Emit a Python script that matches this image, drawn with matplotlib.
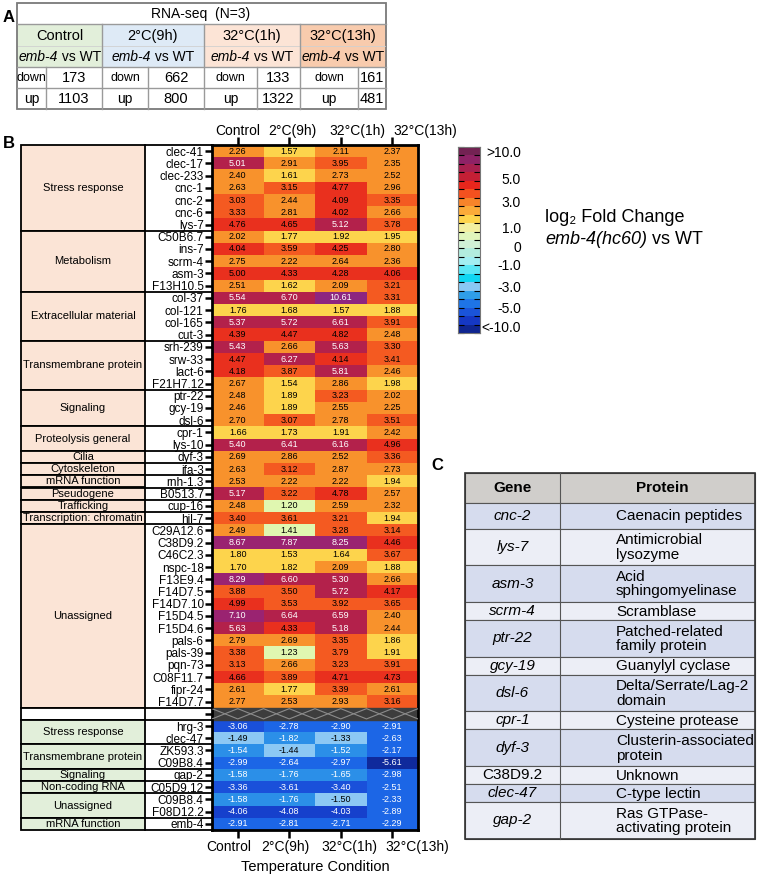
import numpy as np
import matplotlib
matplotlib.use('Agg')
import matplotlib.pyplot as plt
from matplotlib.colors import ListedColormap, BoundaryNorm
from matplotlib.patches import Rectangle

plt.rcParams['font.family'] = ['Liberation Sans', 'DejaVu Sans']

W, H = 765, 877

# --- panel A data
conditions = ['Control', '2°C(9h)', '32°C(1h)', '32°C(13h)']
down_counts = [173, 662, 133, 161]
up_counts = [1103, 800, 1322, 481]
header_colors = ['#e2efda', '#deeaf6', '#fce4d6', '#f8cbad']

# --- panel B data (log2 FC: Control, 2C 9h, 32C 1h, 32C 13h)
up_genes = ['clec-41', 'clec-17', 'clec-233', 'cnc-1', 'cnc-2', 'cnc-6', 'lys-7',
            'C50B6.7', 'ins-7', 'scrm-4', 'asm-3', 'F13H10.5',
            'col-37', 'col-121', 'col-165', 'cut-3',
            'srh-239', 'srw-33', 'lact-6', 'F21H7.12',
            'ptr-22', 'gcy-19', 'dsl-6', 'cpr-1', 'lys-10',
            'dyf-3', 'ifa-3', 'rnh-1.3', 'B0513.7', 'cup-16', 'hil-7',
            'C29A12.6', 'C38D9.2', 'C46C2.3', 'nspc-18', 'F13E9.4', 'F14D7.5',
            'F14D7.10', 'F15D4.5', 'F15D4.6', 'pals-6', 'pals-39', 'pqn-73',
            'C08F11.7', 'fipr-24', 'F14D7.7']
up_values = [
    [2.26, 1.57, 2.11, 2.37], [5.01, 2.91, 3.95, 2.35], [2.40, 1.61, 2.73, 2.52],
    [2.63, 3.15, 4.77, 2.96], [3.03, 2.44, 4.09, 3.35], [3.33, 2.81, 4.02, 2.66],
    [4.76, 4.65, 5.12, 3.78],
    [2.02, 1.77, 1.92, 1.95], [4.04, 3.59, 4.25, 2.80], [2.75, 2.22, 2.64, 2.36],
    [5.00, 4.33, 4.28, 4.06], [2.51, 1.62, 2.09, 3.21],
    [5.54, 6.70, 10.61, 3.31], [1.76, 1.68, 1.57, 1.88], [5.37, 5.72, 6.61, 3.91],
    [4.39, 4.47, 4.82, 2.48],
    [5.43, 2.66, 5.63, 3.30], [4.47, 6.27, 4.14, 3.41], [4.18, 3.87, 5.81, 2.46],
    [2.67, 1.54, 2.86, 1.98],
    [2.48, 1.89, 3.23, 2.02], [2.46, 1.89, 2.55, 2.25], [2.70, 3.07, 2.78, 3.51],
    [1.66, 1.73, 1.91, 2.42], [5.40, 6.41, 6.16, 4.96],
    [2.69, 2.86, 2.52, 3.36], [2.63, 3.12, 2.87, 2.73], [2.53, 2.22, 2.22, 1.94],
    [5.17, 3.22, 4.78, 2.57], [2.48, 1.20, 2.59, 2.32], [3.40, 3.61, 3.21, 1.94],
    [2.49, 1.41, 3.28, 3.14], [8.67, 7.87, 8.25, 4.46], [1.80, 1.53, 1.64, 3.67],
    [1.70, 1.82, 2.09, 1.88], [8.29, 6.60, 5.30, 2.66], [3.88, 3.50, 5.72, 4.17],
    [4.99, 3.53, 3.92, 3.65], [7.10, 6.64, 6.59, 2.40], [5.63, 4.33, 5.18, 2.44],
    [2.79, 2.69, 3.35, 1.86], [3.38, 1.23, 3.79, 1.91], [3.13, 2.66, 3.23, 3.91],
    [4.66, 3.89, 4.71, 4.73], [2.61, 1.77, 3.39, 2.61], [2.77, 2.53, 2.93, 3.16]]
up_categories = [('Stress response', 7), ('Metabolism', 5), ('Extracellular material', 4),
                 ('Transmembrane protein', 4), ('Signaling', 3), ('Proteolysis general', 2),
                 ('Cilia', 1), ('Cytoskeleton', 1), ('mRNA function', 1), ('Pseudogene', 1),
                 ('Trafficking', 1), ('Transcription: chromatin', 1), ('Unassigned', 15)]

down_genes = ['hrg-3', 'clec-47', 'ZK593.3', 'C09B8.4', 'gap-2', 'C05D9.12',
              'C09B8.4', 'F08D12.2', 'emb-4']
down_values = [
    [-3.06, -2.78, -2.90, -2.91], [-1.49, -1.82, -1.33, -2.63], [-1.54, -1.44, -1.52, -2.17],
    [-2.99, -2.64, -2.97, -5.61], [-1.58, -1.76, -1.65, -2.98], [-3.36, -3.61, -3.40, -2.51],
    [-1.58, -1.76, -1.50, -2.33], [-4.06, -4.08, -4.03, -2.89], [-2.91, -2.81, -2.71, -2.29]]
down_categories = [('Stress response', 2), ('Transmembrane protein', 2), ('Signaling', 1),
                   ('Non-coding RNA', 1), ('Unassigned', 2), ('mRNA function', 1)]

# colour scale
bounds = [-12, -5, -4, -3, -2, -1.505, -1.0, 0, 1.0, 1.5, 2.0, 3.0, 4.0, 5.005, 7.0, 10.0, 12]
cell_colors = ['#0f2a9c', '#1640cc', '#1a50da', '#1c66e6', '#2b8fe8', '#8cc8f4',
               '#5ae6f5', '#d0f0d6', '#e0f7b0', '#fdd44c', '#f8922c', '#f45a21',
               '#e9301e', '#b3214b', '#9a2371', '#8d2580']
cbar_colors = ['#732253', '#8e2266', '#a8204f', '#c41f35', '#e8261c', '#f4511f',
               '#f7842a', '#fbab39', '#fdd44c', '#f2efa0', '#e0f5bb', '#d0f0d6',
               '#b2ecde', '#a2eef2', '#5ae6f5', '#10d6f2', '#8ac8f4', '#2f9ee8',
               '#1e74e6', '#1a54d9', '#1538c4', '#0f2590']
cbar_labels = ['>10.0', '5.0', '3.0', '1.0', '0', '-1.0', '-3.0', '-5.0', '<-10.0']
cbar_label_pos = [0.03, 0.18, 0.30, 0.44, 0.545, 0.64, 0.76, 0.87, 0.975]

# --- panel C data
table_genes = ['cnc-2', 'lys-7', 'asm-3', 'scrm-4', 'ptr-22', 'gcy-19', 'dsl-6',
               'cpr-1', 'dyf-3', 'C38D9.2', 'clec-47', 'gap-2']
table_proteins = ['Caenacin peptides', 'Antimicrobial\nlysozyme', 'Acid\nsphingomyelinase',
                  'Scramblase', 'Patched-related\nfamily protein', 'Guanylyl cyclase',
                  'Delta/Serrate/Lag-2\ndomain', 'Cysteine protease',
                  'Clusterin-associated\nprotein', 'Unknown', 'C-type lectin',
                  'Ras GTPase-\nactivating protein']

fig = plt.figure(figsize=(W / 100, H / 100), dpi=100)


def px_axes(x0, y0, x1, y1):
    return fig.add_axes([x0 / W, 1 - y1 / H, (x1 - x0) / W, (y1 - y0) / H])


ov = fig.add_axes([0, 0, 1, 1])
ov.set_xlim(0, W)
ov.set_ylim(H, 0)
ov.axis('off')
renderer = fig.canvas.get_renderer()


def rich_text(x, y, parts, size, ha='left'):
    # several text runs on one line (italic gene names)
    texts, widths = [], []
    for s, style in parts:
        t = ov.text(0, y, s, fontsize=size, style=style, va='center', ha='left')
        texts.append(t)
        widths.append(t.get_window_extent(renderer=renderer).width)
    start = x - sum(widths) / 2 if ha == 'center' else x
    for t, w in zip(texts, widths):
        t.set_x(start)
        start += w


# ================= panel A
ov.text(9, 17, 'A', fontsize=12, fontweight='bold', ha='center', va='center')
gx = [17, 102, 204, 300, 386]
sub = [46, 148, 257, 358]
grid_c = '#9a9a9a'
for i in range(4):
    ov.add_patch(Rectangle((gx[i], 24), gx[i + 1] - gx[i], 43, fc=header_colors[i], ec='none'))
    ov.plot([gx[i] + 1, gx[i + 1] - 1], [46, 46], color='#d0d0d0', lw=0.6)
    cx = (gx[i] + gx[i + 1]) / 2
    ov.text(cx, 36, conditions[i], fontsize=10.5, ha='center', va='center')
    rich_text(cx, 57, [('emb-4', 'italic'), (' vs WT', 'normal')], 10, ha='center')
    lx = (gx[i] + sub[i]) / 2
    vx = (sub[i] + gx[i + 1]) / 2
    ov.text(lx, 78, 'down', fontsize=9, ha='center', va='center')
    ov.text(lx, 99, 'up', fontsize=10, ha='center', va='center')
    ov.text(vx, 78, str(down_counts[i]), fontsize=10.5, ha='center', va='center')
    ov.text(vx, 99, str(up_counts[i]), fontsize=10.5, ha='center', va='center')
    ov.plot([sub[i], sub[i]], [67, 109], color=grid_c, lw=1)
    if i > 0:
        ov.plot([gx[i], gx[i]], [24, 109], color=grid_c, lw=1)
for yy in [24, 67, 88]:
    ov.plot([17, 386], [yy, yy], color=grid_c, lw=1)
ov.add_patch(Rectangle((17, 3), 369, 106, fc='none', ec='#7a7a7a', lw=1.3))
ov.text(201, 14, 'RNA-seq  (N=3)', fontsize=10, ha='center', va='center')

# ================= panel B heatmap
ov.text(9, 143, 'B', fontsize=12, fontweight='bold', ha='center', va='center')
gap_row = len(up_genes)
M = np.vstack([np.array(up_values), np.full((1, 4), np.nan), np.array(down_values)])
row_labels = up_genes + [''] + down_genes
n_rows = M.shape[0]

cmap = ListedColormap(cell_colors)
norm = BoundaryNorm(bounds, cmap.N)
hm = px_axes(212, 145, 418, 830)
hm.imshow(np.ma.masked_invalid(M), cmap=cmap, norm=norm, aspect='auto',
          interpolation='nearest')
hm.axhspan(gap_row - 0.5, gap_row + 0.5, color='#3d3d3d', zorder=2)
zx = np.arange(-0.5, 3.51, 0.5)
zy = np.where(np.arange(len(zx)) % 2 == 0, gap_row - 0.42, gap_row + 0.42)
hm.plot(zx, zy, color='#8c8c8c', lw=0.8, zorder=3)
hm.plot(zx, 2 * gap_row - zy, color='#8c8c8c', lw=0.8, zorder=3)
for i in range(n_rows):
    for j in range(4):
        v = M[i, j]
        if np.isnan(v):
            continue
        tc = 'white' if (v >= 5.005 or v <= -1.505) else 'black'
        hm.text(j, i, f'{v:.2f}', ha='center', va='center', fontsize=6.5, color=tc)
hm.set_xticks(range(4))
hm.set_xticklabels([])
hm.set_yticks(range(n_rows))
hm.set_yticklabels(row_labels, fontsize=8.5)
hm.tick_params(axis='x', top=True, bottom=True, length=6, width=1.8)
hm.tick_params(axis='y', length=5, width=1.8, pad=1)
for s in hm.spines.values():
    s.set_linewidth(2)
# condition labels (spread a little wider than the columns, as in the figure)
top_label_x = [238, 292, 357, 425]
bottom_label_x = [229, 285, 349, 417]
for c, xt, xb in zip(conditions, top_label_x, bottom_label_x):
    ov.text(xt, 131, c, fontsize=10, ha='center', va='center')
    ov.text(xb, 847, c, fontsize=10, ha='center', va='center')
ov.text(315, 867, 'Temperature Condition', fontsize=10.5, ha='center', va='center')

# category boxes
cat = px_axes(21, 145, 212, 830)
cat.set_xlim(0, 191)
cat.set_ylim(n_rows - 0.5, -0.5)
cat.axis('off')
box_w = 124
edges = []
start = -0.5
for name, n in up_categories:
    cat.add_patch(Rectangle((0, start), box_w, n, fc='#fbe4d6', ec='black', lw=1.3,
                            clip_on=False))
    cat.text(box_w / 2, start + n / 2, name, fontsize=8, ha='center', va='center')
    edges.append(start)
    start += n
edges.append(start)
cat.add_patch(Rectangle((0, start), box_w, 1, fc='white', ec='black', lw=1.3, clip_on=False))
start += 1
for name, n in down_categories:
    cat.add_patch(Rectangle((0, start), box_w, n, fc='#e2efda', ec='black', lw=1.3,
                            clip_on=False))
    cat.text(box_w / 2, start + n / 2, name, fontsize=8, ha='center', va='center')
    edges.append(start)
    start += n
edges.append(start)
for e in edges:
    cat.plot([box_w, 191], [e, e], color='black', lw=1.3, clip_on=False)

# colour bar
n_band = len(cbar_colors)
cb = px_axes(458, 147, 480, 333)
cb.imshow(np.arange(n_band)[:, None], cmap=ListedColormap(cbar_colors), aspect='auto',
          interpolation='nearest')
cb.set_xticks([])
cb.set_yticks(np.arange(n_band + 1) - 0.5)
cb.tick_params(axis='y', direction='in', left=True, right=True, labelleft=False,
               length=4, width=0.8)
for s in cb.spines.values():
    s.set_color('#777777')
    s.set_linewidth(0.8)
for lab, p in zip(cbar_labels, cbar_label_pos):
    cb.text(2.86, 1 - p, lab, transform=cb.transAxes, ha='right', va='center', fontsize=10)
ov.text(545, 218, 'log\u2082 Fold Change', fontsize=13, ha='left', va='center')
rich_text(545, 239, [('emb-4(hc60)', 'italic'), (' vs WT', 'normal')], 13)

# ================= panel C
ov.text(437, 466, 'C', fontsize=12, fontweight='bold', ha='center', va='center')
tx0, tdiv, tx1 = 465, 560, 755
ty = 473
ov.add_patch(Rectangle((tx0, ty), tx1 - tx0, 29.5, fc='#d0cecb', ec='#555555', lw=0.8))
ov.plot([tdiv, tdiv], [ty, ty + 29.5], color='#555555', lw=0.8)
ov.text((tx0 + tdiv) / 2, ty + 15, 'Gene', fontsize=11, fontweight='bold', ha='center',
        va='center')
ov.text((tdiv + tx1) / 2 + 5, ty + 15, 'Protein', fontsize=11, fontweight='bold',
        ha='center', va='center')
ty += 29.5
for k, (g, p) in enumerate(zip(table_genes, table_proteins)):
    nl = p.count('\n') + 1
    h = 36.8 if nl == 2 else (26 if k == 0 else 17.9)
    fc = '#d6dcee' if k % 2 == 0 else '#eceef6'
    ov.add_patch(Rectangle((tx0, ty), tx1 - tx0, h, fc=fc, ec='#555555', lw=0.8))
    ov.plot([tdiv, tdiv], [ty, ty + h], color='#555555', lw=0.8)
    style = 'normal' if g[0].isupper() else 'italic'
    ov.text((tx0 + tdiv) / 2, ty + h / 2, g, fontsize=11, style=style, ha='center',
            va='center')
    ov.text(616, ty + h / 2 + 0.5, p, fontsize=11, ha='left', va='center', linespacing=1.05)
    ty += h
ov.add_patch(Rectangle((tx0, 473), tx1 - tx0, ty - 473, fc='none', ec='#333333', lw=1.2))

fig.savefig('out.png', dpi=100)
